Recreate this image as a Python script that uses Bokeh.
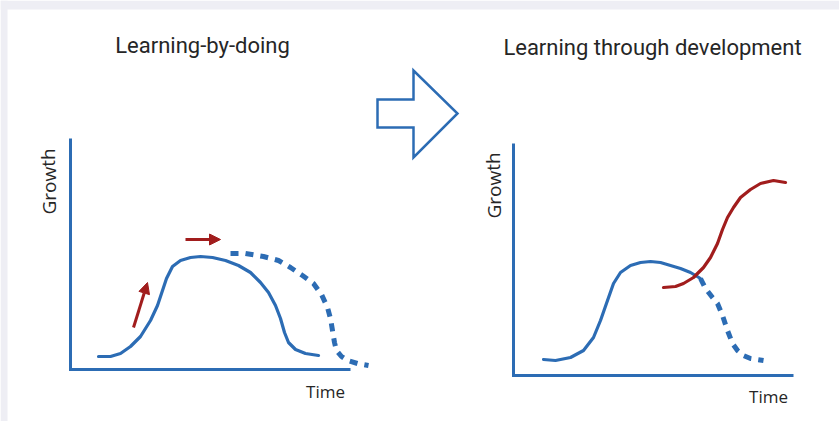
from bokeh.plotting import figure
from bokeh.models import Range1d, Arrow, NormalHead
from bokeh.core.properties import value
from bokeh.embed import file_html
from bokeh.resources import INLINE

# ---- data (pixel coordinates of the sketch) ----
# Left panel: learning-by-doing
left_axis_x = [70, 70, 350]
left_axis_y = [138, 369, 369]
left_solid_x = [98, 110, 120, 130, 140, 150, 157, 162, 166, 172, 180, 190, 200, 212, 225, 238, 250, 260, 268, 275, 280, 284, 288, 295, 305, 318]
left_solid_y = [356, 356, 353, 346, 336, 320, 305, 290, 278, 266, 260, 257, 256, 257, 260, 265, 272, 282, 292, 305, 318, 332, 342, 349, 353, 355]
left_dash_x = [230, 245, 263, 278, 290, 302, 313, 321, 327, 330, 332, 334, 336, 341, 347, 357, 368]
left_dash_y = [253, 253, 256, 260, 267, 275, 283, 294, 307, 318, 330, 342, 350, 356, 360, 363, 365]
red_arrows_x0 = [133, 185]
red_arrows_y0 = [327, 239]
red_arrows_x1 = [147, 220]
red_arrows_y1 = [282, 239]

# Right panel: learning through development
right_axis_x = [513, 513, 793]
right_axis_y = [143, 375, 375]
right_solid_x = [543, 555, 570, 583, 593, 600, 607, 613, 620, 630, 640, 650, 660, 670, 680, 690, 700]
right_solid_y = [359, 360, 357, 350, 337, 320, 300, 283, 272, 265, 262, 261, 262, 265, 268, 272, 278]
right_dash_x = [700, 705, 712, 717, 722, 727, 732, 737, 743, 750, 763]
right_dash_y = [278, 288, 297, 303, 315, 330, 343, 350, 355, 358, 360]
right_red_x = [663, 675, 683, 693, 703, 710, 717, 722, 727, 733, 740, 750, 760, 773, 785]
right_red_y = [287, 286, 283, 277, 267, 257, 243, 229, 217, 207, 197, 189, 183, 180, 182]

# Big outline arrow between panels
big_arrow_x = [377, 413, 413, 457, 413, 413, 377]
big_arrow_y = [99, 99, 70, 113, 157, 127, 127]

titles = ["Learning-by-doing", "Learning through development"]
title_x = [202, 652]
title_y = [45, 47]
time_x = [325, 768]
time_y = [391, 396]
growth_x = [48, 493]
growth_y = [181, 185]

# page frame band (top and left strip)
band_left = [0, 0]
band_right = [839, 7]
band_top = [0, 0]
band_bottom = [9, 421]

BLUE = "#2c6cb4"
RED = "#a11d1d"

p = figure(width=839, height=421, output_backend="svg", toolbar_location=None,
           x_range=Range1d(0, 839), y_range=Range1d(421, 0), min_border=0)
p.axis.visible = False
p.grid.visible = False
p.outline_line_color = None
p.background_fill_color = "white"
p.border_fill_color = "white"

p.quad(left=band_left, right=band_right, top=band_top, bottom=band_bottom,
       fill_color="#eeeef4", line_color=None)

# axes
for ax, ay in [(left_axis_x, left_axis_y), (right_axis_x, right_axis_y)]:
    p.line(ax, ay, line_color=BLUE, line_width=3, line_join="miter")

# curves
p.line(left_solid_x, left_solid_y, line_color=BLUE, line_width=3.2, line_cap="round")
p.line(left_dash_x, left_dash_y, line_color=BLUE, line_width=5, line_dash="8 7")
p.line(right_solid_x, right_solid_y, line_color=BLUE, line_width=3.2, line_cap="round")
p.line(right_dash_x, right_dash_y, line_color=BLUE, line_width=5, line_dash="8 7")
p.line(right_red_x, right_red_y, line_color=RED, line_width=3.2, line_cap="round")

# red arrows
for x0, y0, x1, y1 in zip(red_arrows_x0, red_arrows_y0, red_arrows_x1, red_arrows_y1):
    p.add_layout(Arrow(x_start=x0, y_start=y0, x_end=x1, y_end=y1,
                       line_color=RED, line_width=3,
                       end=NormalHead(size=11, fill_color=RED, line_color=RED, line_width=1)))

# big outline arrow
p.patch(big_arrow_x, big_arrow_y, fill_color="white", line_color=BLUE, line_width=2.5, line_join="miter")

# texts
p.text(title_x, title_y, text=titles, text_font=value("Roboto"), text_font_size="22px",
       text_color="#262626", text_align="center", text_baseline="middle")
p.text(time_x, time_y, text=["Time", "Time"], text_font=value("Open Sans"), text_font_size="17px",
       text_color="#262626", text_align="center", text_baseline="middle")
p.text(growth_x, growth_y, text=["Growth", "Growth"], text_font=value("Open Sans"), text_font_size="19px",
       text_color="#262626", text_align="center", text_baseline="middle", angle=1.5708)

open("out.html", "w").write(file_html(p, INLINE))
